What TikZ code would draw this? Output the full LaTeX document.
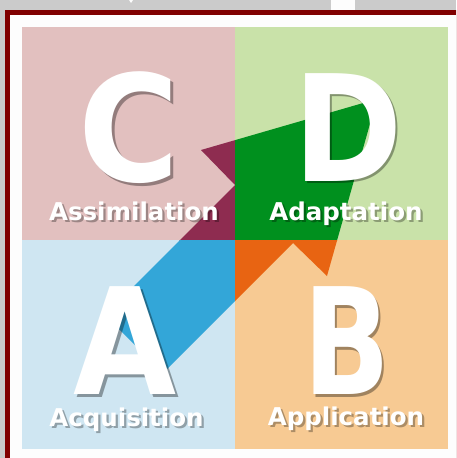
\documentclass[tikz,border=0pt]{standalone}
\usepackage{fontspec}
\usepackage{graphicx}
\usepackage{tikz}
\usetikzlibrary{positioning}
\usepackage{xcolor}
\newfontfamily\tilefont{DejaVu Sans}
\definecolor{framegray}{RGB}{203, 203, 203}
\definecolor{framered}{RGB}{128, 0, 0}
\definecolor{paper}{RGB}{253, 253, 253}
\definecolor{tilepink}{RGB}{226, 192, 191}
\definecolor{tilegreen}{RGB}{201, 226, 169}
\definecolor{tileblue}{RGB}{207, 230, 242}
\definecolor{tileorange}{RGB}{247, 202, 147}
\definecolor{arrowmaroon}{RGB}{142, 44, 80}
\definecolor{arrowgreen}{RGB}{0, 144, 30}
\definecolor{arrowblue}{RGB}{51, 166, 216}
\definecolor{arroworange}{RGB}{232, 100, 18}

% white text over a dark offset copy of itself
\newcommand{\castnode}[5]{%
  \node[#3, text=black, opacity=#5, xshift=2.2pt, yshift=-2.5pt] at (#2) {#4};
  \node[#3] (#1) at (#2) {#4};
}

\begin{document}
\begin{tikzpicture}[x=1pt, y=-1pt, line cap=round, line join=round,
    bigletter/.style={text=white, inner sep=0pt, font=\tilefont\bfseries\fontsize{148}{148}\selectfont},
    tilelabel/.style={text=white, inner sep=0pt, anchor=base, font=\tilefont\bfseries\fontsize{24.5}{25}\selectfont}]
	\clip (0,0) rectangle (456,458);

	% page frame
	\fill[framegray] (0,0) rectangle (456,458);
	\fill[paper] (331,0) rectangle (355,10);
	\fill[paper] (129,0) -- (133,0) -- (131,3) -- cycle;
	\fill[framered] (5,10) rectangle (470,470);
	\fill[paper] (10,15) rectangle (470,470);

	% four tiles
	\fill[tilepink] (22,27) rectangle (235,240);
	\fill[tilegreen] (235,27) rectangle (448,240);
	\fill[tileblue] (22,240) rectangle (235,449);
	\fill[tileorange] (235,240) rectangle (448,449);

	% arrow outline
	\coordinate (tip) at (377,99);
	\coordinate (barbL) at (201,150);
	\coordinate (notchL) at (235,185);
	\coordinate (tailL) at (105,315);
	\coordinate (tailR) at (163,373);
	\coordinate (notchR) at (293,243);
	\coordinate (barbR) at (327,276);

	% arrow takes the colour of each tile it crosses
	\foreach \xa/\ya/\xb/\yb/\col in {22/27/235/240/arrowmaroon, 235/27/448/240/arrowgreen,
	                                  22/240/235/449/arrowblue, 235/240/448/449/arroworange}{
		\begin{scope}
			\clip (\xa,\ya) rectangle (\xb,\yb);
			\fill[\col] (tip) -- (barbL) -- (notchL) -- (tailL) -- (tailR) -- (notchR) -- (barbR) -- cycle;
		\end{scope}
	}

	% letters and stage names
	\castnode{C}{129.5,128}{bigletter}{\scalebox{0.93}[1]{C}}{0.35}
	\castnode{D}{348,127.5}{bigletter}{\scalebox{0.89}[1]{D}}{0.35}
	\castnode{A}{125.5,341}{bigletter}{\scalebox{0.9}[1]{A}}{0.35}
	\castnode{B}{347,341}{bigletter}{\scalebox{0.77}[1]{B}}{0.35}
	\castnode{assim}{134,220}{tilelabel}{Assimilation}{0.3}
	\castnode{adapt}{346,220}{tilelabel}{Adaptation}{0.3}
	\castnode{acqui}{126.5,426}{tilelabel}{Acquisition}{0.3}
	\castnode{appli}{346,425}{tilelabel}{Application}{0.3}
\end{tikzpicture}
\end{document}
